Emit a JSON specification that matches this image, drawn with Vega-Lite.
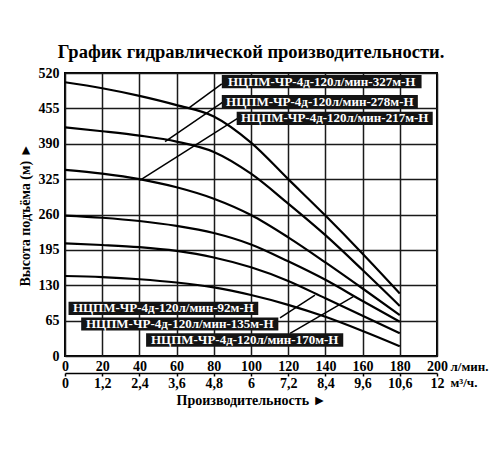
{
  "$schema": "https://vega.github.io/schema/vega-lite/v6.json",
  "width": 372,
  "height": 283,
  "autosize": "none",
  "padding": {"left": 65, "top": 73, "right": 63, "bottom": 94},
  "background": "white",
  "title": {
    "text": "График гидравлической производительности.",
    "font": "Liberation Serif",
    "fontSize": 18.5,
    "fontWeight": "bold",
    "color": "black",
    "anchor": "middle",
    "offset": 5
  },
  "datasets": {
    "curves": [
      {"model": "327", "q": 0, "h": 503}, {"model": "327", "q": 20, "h": 492}, {"model": "327", "q": 40, "h": 478},
      {"model": "327", "q": 60, "h": 461}, {"model": "327", "q": 80, "h": 440}, {"model": "327", "q": 100, "h": 392},
      {"model": "327", "q": 120, "h": 325}, {"model": "327", "q": 140, "h": 258}, {"model": "327", "q": 160, "h": 188},
      {"model": "327", "q": 180, "h": 115},
      {"model": "278", "q": 0, "h": 420}, {"model": "278", "q": 20, "h": 413}, {"model": "278", "q": 40, "h": 405},
      {"model": "278", "q": 60, "h": 394}, {"model": "278", "q": 80, "h": 375}, {"model": "278", "q": 100, "h": 335},
      {"model": "278", "q": 120, "h": 280}, {"model": "278", "q": 140, "h": 222}, {"model": "278", "q": 160, "h": 158},
      {"model": "278", "q": 180, "h": 92},
      {"model": "217", "q": 0, "h": 342}, {"model": "217", "q": 20, "h": 335}, {"model": "217", "q": 40, "h": 325},
      {"model": "217", "q": 60, "h": 310}, {"model": "217", "q": 80, "h": 289}, {"model": "217", "q": 100, "h": 259},
      {"model": "217", "q": 120, "h": 218}, {"model": "217", "q": 140, "h": 172}, {"model": "217", "q": 160, "h": 124},
      {"model": "217", "q": 180, "h": 75},
      {"model": "170", "q": 0, "h": 258}, {"model": "170", "q": 20, "h": 254}, {"model": "170", "q": 40, "h": 248},
      {"model": "170", "q": 60, "h": 239}, {"model": "170", "q": 80, "h": 226}, {"model": "170", "q": 100, "h": 205},
      {"model": "170", "q": 120, "h": 174}, {"model": "170", "q": 140, "h": 140}, {"model": "170", "q": 160, "h": 101},
      {"model": "170", "q": 180, "h": 63},
      {"model": "135", "q": 0, "h": 207}, {"model": "135", "q": 20, "h": 204}, {"model": "135", "q": 40, "h": 200},
      {"model": "135", "q": 60, "h": 193}, {"model": "135", "q": 80, "h": 181}, {"model": "135", "q": 100, "h": 163},
      {"model": "135", "q": 120, "h": 138}, {"model": "135", "q": 140, "h": 106}, {"model": "135", "q": 160, "h": 74},
      {"model": "135", "q": 180, "h": 42},
      {"model": "92", "q": 0, "h": 147}, {"model": "92", "q": 20, "h": 145}, {"model": "92", "q": 40, "h": 141},
      {"model": "92", "q": 60, "h": 135}, {"model": "92", "q": 80, "h": 126}, {"model": "92", "q": 100, "h": 112},
      {"model": "92", "q": 120, "h": 94}, {"model": "92", "q": 140, "h": 72}, {"model": "92", "q": 160, "h": 46},
      {"model": "92", "q": 180, "h": 18}
    ],
    "leaders": [
      {"x": 84.3, "y": 500, "x2": 66.3, "y2": 455},
      {"x": 85, "y": 467, "x2": 53.8, "y2": 394},
      {"x": 93, "y": 437, "x2": 40.4, "y2": 323},
      {"x": 115.6, "y": 70, "x2": 134.4, "y2": 112},
      {"x": 121, "y": 41.7, "x2": 155, "y2": 109}
    ],
    "labels": [
      {"label": "НЦПМ-ЧР-4д-120л/мин-327м-Н", "x": 84.3, "x2": 191.7, "y": 516.4, "y2": 491.9},
      {"label": "НЦПМ-ЧР-4д-120л/мин-278м-Н", "x": 84.3, "x2": 189.7, "y": 479.6, "y2": 455.2},
      {"label": "НЦПМ-ЧР-4д-120л/мин-217м-Н", "x": 92.3, "x2": 197.7, "y": 448.9, "y2": 424.5},
      {"label": "НЦПМ-ЧР-4д-120л/мин-92м-Н", "x": 1.9, "x2": 103.9, "y": 99.8, "y2": 75.3},
      {"label": "НЦПМ-ЧР-4д-120л/мин-135м-Н", "x": 8.7, "x2": 114.7, "y": 70.7, "y2": 46.9},
      {"label": "НЦПМ-ЧР-4д-120л/мин-170м-Н", "x": 43.6, "x2": 149.6, "y": 41.7, "y2": 17.1}
    ]
  },
  "layer": [
    {
      "data": {"name": "curves"},
      "mark": {"type": "line", "interpolate": "monotone", "color": "black", "strokeWidth": 2.2},
      "encoding": {
        "x": {
          "field": "q", "type": "quantitative",
          "scale": {"domain": [0, 200], "nice": false},
          "axis": {
            "values": [0, 20, 40, 60, 80, 100, 120, 140, 160, 180, 200],
            "grid": true, "domain": false, "ticks": false, "labelPadding": 3, "labelFlush": false,
            "title": "л/мин.", "titleX": 385, "titleY": 14, "titleAlign": "left",
            "titleBaseline": "alphabetic", "titleFontSize": 13
          }
        },
        "y": {
          "field": "h", "type": "quantitative",
          "scale": {"domain": [0, 520], "nice": false},
          "axis": {
            "values": [0, 65, 130, 195, 260, 325, 390, 455, 520],
            "grid": true, "domain": false, "ticks": false, "labelPadding": 6, "labelOverlap": false,
            "title": "Высота подъёма (м) ►", "titleFontSize": 14, "titlePadding": 6
          }
        },
        "detail": {"field": "model"}
      }
    },
    {
      "data": {"name": "leaders"},
      "mark": {"type": "rule", "color": "black", "strokeWidth": 1.5},
      "encoding": {
        "x": {
          "field": "x", "type": "quantitative",
          "scale": {"domain": [0, 200], "nice": false},
          "axis": {
            "orient": "bottom", "offset": 17,
            "values": [0, 20, 40, 60, 80, 100, 120, 140, 160, 180, 200],
            "grid": false, "domain": true, "domainColor": "black", "domainWidth": 1.5,
            "ticks": true, "tickColor": "black", "tickSize": 3, "tickWidth": 1.5,
            "labelPadding": 0, "labelFlush": false,
            "labelExpr": "['0','1,2','2,4','3,6','4,8','6','7,2','8,4','9,6','10,6','12'][round(datum.value/20)]",
            "title": "м³/ч.", "titleX": 385, "titleY": 13, "titleAlign": "left",
            "titleBaseline": "alphabetic", "titleFontSize": 13
          }
        },
        "y": {
          "field": "y", "type": "quantitative", "scale": {"domain": [0, 520], "nice": false},
          "axis": {"values": [0, 65, 130, 195, 260, 325, 390, 455, 520], "labelOverlap": false, "title": "Высота подъёма (м) ►"}
        },
        "x2": {"field": "x2"},
        "y2": {"field": "y2"}
      }
    },
    {
      "data": {"name": "labels"},
      "mark": {"type": "rect", "color": "#141414"},
      "encoding": {
        "x": {
          "field": "x", "type": "quantitative",
          "scale": {"domain": [0, 200], "nice": false},
          "axis": {
            "orient": "bottom", "offset": 0, "labels": false, "ticks": false, "domain": false, "grid": false,
            "title": "Производительность ►", "titleX": 186, "titleY": 48, "titleAlign": "center",
            "titleBaseline": "alphabetic", "titleFontSize": 14
          }
        },
        "x2": {"field": "x2"},
        "y": {
          "field": "y", "type": "quantitative", "scale": {"domain": [0, 520], "nice": false},
          "axis": {"values": [0, 65, 130, 195, 260, 325, 390, 455, 520], "labelOverlap": false, "title": "Высота подъёма (м) ►"}
        },
        "y2": {"field": "y2"}
      }
    },
    {
      "data": {"name": "labels"},
      "transform": [{"calculate": "(datum.x + datum.x2) / 2", "as": "cx"}, {"calculate": "(datum.y + datum.y2) / 2", "as": "cy"}],
      "mark": {"type": "text", "color": "white", "font": "Liberation Serif", "fontWeight": "bold", "fontSize": 13, "align": "center", "baseline": "middle"},
      "encoding": {
        "x": {"field": "cx", "type": "quantitative", "scale": {"domain": [0, 200], "nice": false}, "axis": null},
        "y": {
          "field": "cy", "type": "quantitative", "scale": {"domain": [0, 520], "nice": false},
          "axis": {"values": [0, 65, 130, 195, 260, 325, 390, 455, 520], "labelOverlap": false, "title": "Высота подъёма (м) ►"}
        },
        "text": {"field": "label"}
      }
    }
  ],
  "resolve": {"axis": {"x": "independent"}},
  "config": {
    "view": {"stroke": "black", "strokeWidth": 2},
    "axis": {
      "labelFont": "Liberation Serif", "labelFontWeight": "bold", "labelFontSize": 14, "labelColor": "black",
      "titleFont": "Liberation Serif", "titleFontWeight": "bold", "titleColor": "black",
      "gridColor": "#1a1a1a", "gridWidth": 1.5, "gridOpacity": 1,
      "labelOverlap": false
    },
    "axisY": {"labelOverlap": false}
  }
}
